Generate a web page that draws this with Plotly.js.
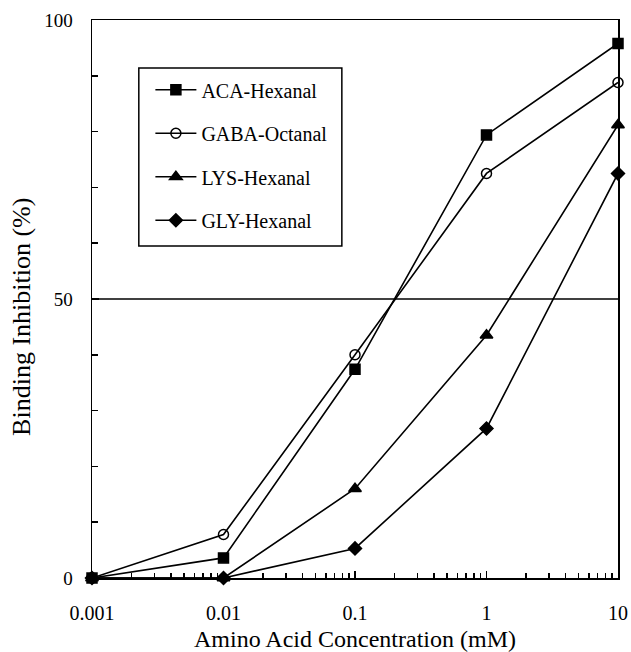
<!DOCTYPE html>
<html>
<head>
<meta charset="utf-8">
<script src="https://cdn.plot.ly/plotly-3.0.1.min.js"></script>
<style>html,body{margin:0;padding:0;background:#fff;}#chart{width:631px;height:652px;}</style>
</head>
<body>
<div id="chart"></div>
<script>
// Data
var concentration = [0.001, 0.01, 0.1, 1, 10];
var acaHexanal  = [0, 3.6, 37.4, 79.4, 95.8];
var gabaOctanal = [0, 7.8, 40.0, 72.5, 88.8];
var lysHexanal  = [0, 0, 16.0, 43.5, 81.2];
var glyHexanal  = [0, 0, 5.3, 26.8, 72.5];
var seriesNames = ['ACA-Hexanal', 'GABA-Octanal', 'LYS-Hexanal', 'GLY-Hexanal'];
var xTickVals = [0.001, 0.01, 0.1, 1, 10];
var xTickText = ['0.001', '0.01', '0.1', '1', '10'];
var yTickVals = [0, 50, 100];
var yTickText = ['0', '50', '100'];

var font = 'Liberation Serif, Times New Roman, serif';

function mk(y, name, symbol, size, fill, group) {
  return {
    x: concentration, y: y, name: name, type: 'scatter', mode: 'lines+markers',
    legendgroup: group,
    line: {color: '#000', width: 1.6},
    marker: {symbol: symbol, size: size, color: fill, line: {color: '#000', width: 1.5}},
    cliponaxis: false
  };
}

var data = [
  mk(acaHexanal, seriesNames[0], 'square', 10, '#000', 'a'),
  mk(gabaOctanal, seriesNames[1], 'circle-open', 10, '#000', 'b'),
  mk(lysHexanal, seriesNames[2], 'triangle-up', 11, '#000', 'c'),
  mk(glyHexanal, seriesNames[3], 'diamond', 10, '#000', 'd')
];

var layout = {
  width: 631, height: 652,
  margin: {l: 92, r: 13, t: 20, b: 74},
  paper_bgcolor: '#fff', plot_bgcolor: '#fff',
  font: {family: font, color: '#000', size: 20},
  showlegend: true,
  legend: {
    x: 0.111, y: 0.91, xanchor: 'left', yanchor: 'top',
    bgcolor: 'rgba(0,0,0,0)', borderwidth: 0,
    font: {family: font, size: 20, color: '#000'},
    tracegroupgap: 14.5,
    traceorder: 'grouped',
    itemwidth: 41
  },
  xaxis: {
    type: 'log', range: [-3, 1],
    tickvals: xTickVals, ticktext: xTickText,
    ticks: 'inside', ticklen: 7, tickwidth: 1.5, tickcolor: '#000',
    minor: {ticks: 'inside', ticklen: 5, tickwidth: 1.5, tickcolor: '#000', dtick: 'D1', showgrid: false},
    showline: true, linecolor: '#000', linewidth: 1.5, mirror: true,
    showgrid: false, zeroline: false,
    tickfont: {family: font, size: 20, color: '#000'},
    ticklabelstandoff: 16,
    title: {text: 'Amino Acid Concentration (mM)', font: {family: font, size: 24, color: '#000'}, standoff: 9}
  },
  yaxis: {
    range: [0, 100],
    tickvals: yTickVals, ticktext: yTickText,
    ticks: 'inside', ticklen: 7, tickwidth: 1.5, tickcolor: '#000',
    minor: {ticks: 'inside', ticklen: 6, tickwidth: 1.5, tickcolor: '#000', dtick: 10, showgrid: false},
    showline: true, linecolor: '#000', linewidth: 1.5, mirror: true,
    showgrid: false, zeroline: false,
    tickfont: {family: font, size: 19, color: '#000'},
    ticklabelstandoff: 14
  },
  shapes: [
    {type: 'line', xref: 'paper', yref: 'y', x0: 0, x1: 1, y0: 50, y1: 50,
     line: {color: '#000', width: 1.5}},
    {type: 'rect', xref: 'paper', yref: 'paper', x0: 0.089, x1: 0.475, y0: 0.595, y1: 0.914,
     line: {color: '#000', width: 1.5}, fillcolor: 'rgba(0,0,0,0)'}
  ],
  annotations: [
    {text: 'Binding Inhibition (%)', xref: 'paper', yref: 'paper', x: -0.133, y: 0.468,
     xanchor: 'center', yanchor: 'middle', textangle: -90, showarrow: false,
     font: {family: font, size: 26, color: '#000'}}
  ]
};

Plotly.newPlot('chart', data, layout, {displayModeBar: false, staticPlot: true});
</script>
</body>
</html>
